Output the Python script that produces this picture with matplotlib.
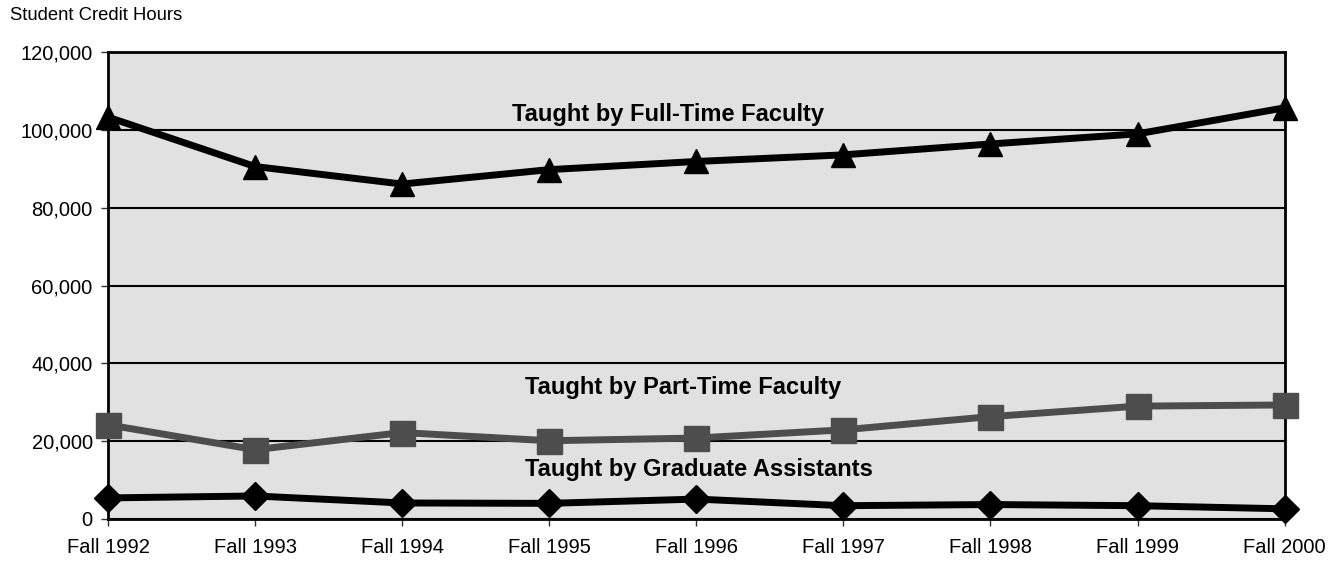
import matplotlib.pyplot as plt
from matplotlib.ticker import FuncFormatter

plt.rcParams['font.family'] = ['Liberation Sans', 'DejaVu Sans']

terms = ['Fall 1992', 'Fall 1993', 'Fall 1994', 'Fall 1995', 'Fall 1996',
         'Fall 1997', 'Fall 1998', 'Fall 1999', 'Fall 2000']
full_time = [103300, 90600, 86100, 89800, 91900, 93600, 96400, 99000, 105700]
part_time = [24200, 17800, 22200, 20100, 20800, 22900, 26300, 29000, 29300]
grad_assist = [5400, 5900, 4100, 4000, 5100, 3400, 3700, 3400, 2600]

x = list(range(len(terms)))

fig = plt.figure(figsize=(13.41, 5.61), dpi=100)
ax = fig.add_axes([0.0805, 0.075, 0.8775, 0.832])
ax.set_facecolor('#e1e1e1')

ax.plot(x, full_time, color='black', lw=5, marker='^', markersize=17, clip_on=False, zorder=3)
ax.plot(x, part_time, color='#4d4d4d', lw=5, marker='s', markersize=18, clip_on=False, zorder=3)
ax.plot(x, grad_assist, color='black', lw=5, marker='D', markersize=14, clip_on=False, zorder=3)

ax.set_xlim(0, len(terms) - 1)
ax.set_ylim(0, 120000)
ax.set_yticks(range(0, 120001, 20000))
ax.yaxis.set_major_formatter(FuncFormatter(lambda v, p: f'{int(v):,}'))
ax.set_xticks(x)
ax.set_xticklabels(terms)
ax.tick_params(labelsize=14.5, length=5, width=1, color='#333333')
ax.tick_params(axis='x', pad=9)
ax.tick_params(axis='y', pad=6)
ax.grid(axis='y', color='black', lw=1.5)
ax.set_axisbelow(True)
for s in ax.spines.values():
    s.set_linewidth(2)

ax.text(2.746, 104100, 'Taught by Full-Time Faculty', ha='left', va='center',
        fontsize=17, fontweight='bold')
ax.text(2.835, 33700, 'Taught by Part-Time Faculty', ha='left', va='center',
        fontsize=17, fontweight='bold')
ax.text(2.835, 12600, 'Taught by Graduate Assistants', ha='left', va='center',
        fontsize=17, fontweight='bold')

fig.text(0.0075, 0.973, 'Student Credit Hours', ha='left', va='center', fontsize=13.3)

fig.savefig('out.png', dpi=100)
